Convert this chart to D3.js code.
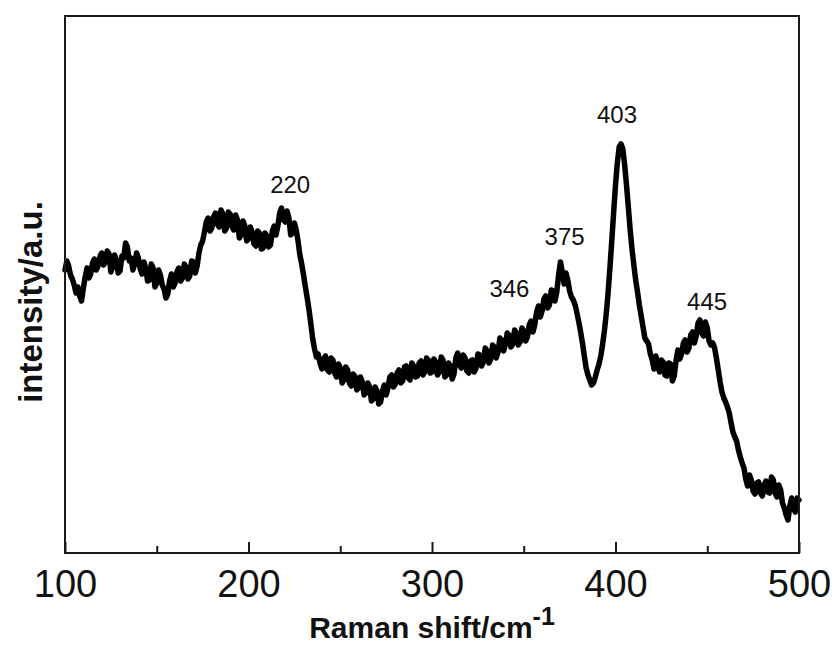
<!DOCTYPE html>
<html>
<head>
<meta charset="utf-8">
<script src="https://cdn.jsdelivr.net/npm/d3@7"></script>
<style>
  html, body { margin: 0; padding: 0; background: #fff; }
  svg { display: block; }
  text { font-family: "Liberation Sans", Arial, Helvetica, sans-serif; fill: #111; }
</style>
</head>
<body>
<svg id="chart" width="836" height="646"></svg>
<script>
// Raman spectrum, sampled every 1 cm^-1 from 100 to 500 cm^-1
const shiftStart = 100, shiftEnd = 500, shiftStep = 1;
const ramanShift = d3.range(shiftStart, shiftEnd + 1, shiftStep);

const intensity = [
  283,292,287,278,274,268,260,266,257,252,265,276,285,275,279,290,294,283,287,296,
  300,288,291,302,299,281,286,298,293,280,282,297,295,310,306,292,295,283,289,300,
  295,284,279,291,285,272,273,289,285,266,270,283,278,268,264,255,259,272,279,266,
  270,281,285,272,275,289,286,274,277,292,291,280,287,300,308,312,321,331,335,322,
  325,336,340,329,326,343,339,322,325,341,339,327,323,338,333,315,318,332,327,312,
  314,326,321,309,307,322,320,304,305,320,317,306,308,322,327,318,327,340,345,333,
  331,342,335,318,320,330,323,312,298,289,278,266,255,243,229,214,204,196,199,190,
  184,194,197,183,181,195,193,180,176,189,185,170,173,186,183,170,167,179,177,163,
  165,176,171,158,160,170,166,152,154,166,162,149,151,162,168,158,165,176,178,166,
  169,180,183,170,172,186,187,175,173,190,187,176,177,190,192,178,181,195,193,180,
  181,194,191,178,181,196,193,176,178,190,187,174,179,195,200,188,185,198,195,182,
  180,192,193,181,185,199,198,187,191,205,202,190,194,208,206,195,201,215,213,202,
  209,220,218,206,209,223,220,208,211,225,222,212,216,228,232,221,228,241,247,236,
  242,254,257,245,248,263,262,252,261,278,291,281,269,280,273,262,256,253,248,240,
  231,221,210,197,185,178,173,168,170,176,183,189,197,209,223,240,261,286,313,341,
  368,390,406,409,404,388,368,346,323,304,288,273,261,248,237,226,215,212,209,199,
  193,184,197,188,181,193,191,178,177,190,189,172,177,192,203,194,199,210,213,201,
  205,218,221,210,217,230,233,220,217,231,225,212,208,210,205,195,183,171,161,155,
  151,146,140,130,121,116,112,103,96,90,85,74,67,78,73,62,59,70,71,60,
  57,68,72,61,60,76,73,60,56,68,63,50,45,38,33,47,55,44,41,55,
  53
];

// Assigned band positions (cm^-1)
const peakLabels = [220, 346, 375, 403, 445];

const xMajorTicks = [100, 200, 300, 400, 500];
const xMinorTicks = [150, 250, 350, 450];

const xTitle = "Raman shift/cm";
const xTitleSup = "-1";
const yTitle = "intensity/a.u.";

// ---- layout ----
const plot = { left: 65, right: 799, top: 16, bottom: 553 };

const svg = d3.select("#chart");

const x = d3.scaleLinear().domain([shiftStart, shiftEnd]).range([plot.left, plot.right]);
const y = d3.scaleLinear().domain([0, 537]).range([plot.bottom, plot.top]);

const spectrum = ramanShift.map((s, i) => ({ s, v: intensity[i] }));

// spectrum trace
svg.append("path")
  .datum(spectrum)
  .attr("fill", "none")
  .attr("stroke", "#000")
  .attr("stroke-width", 5.5)
  .attr("stroke-linejoin", "round")
  .attr("stroke-linecap", "round")
  .attr("d", d3.line().x(d => x(d.s)).y(d => y(d.v)));

// frame
svg.append("rect")
  .attr("x", plot.left).attr("y", plot.top)
  .attr("width", plot.right - plot.left).attr("height", plot.bottom - plot.top)
  .attr("fill", "none").attr("stroke", "#1a1a1a").attr("stroke-width", 2);

// bottom axis: inward ticks, labels below
const xAxis = d3.axisBottom(x)
  .tickValues(xMajorTicks)
  .tickSizeInner(-11).tickSizeOuter(0)
  .tickFormat(d3.format("d"));

const gx = svg.append("g")
  .attr("transform", `translate(0,${plot.bottom})`)
  .call(xAxis);
gx.select(".domain").remove();
gx.selectAll(".tick line").attr("stroke", "#1a1a1a").attr("stroke-width", 2);
gx.selectAll(".tick text")
  .attr("font-size", 38)
  .attr("font-family", "'Liberation Sans', Arial, sans-serif")
  .attr("fill", "#111")
  .attr("dy", null)
  .attr("y", 44);

// minor ticks
const xMinor = d3.axisBottom(x)
  .tickValues(xMinorTicks)
  .tickSizeInner(-7).tickSizeOuter(0)
  .tickFormat("");
const gxm = svg.append("g")
  .attr("transform", `translate(0,${plot.bottom})`)
  .call(xMinor);
gxm.select(".domain").remove();
gxm.selectAll(".tick line").attr("stroke", "#1a1a1a").attr("stroke-width", 2);

// x title with superscript
const xt = svg.append("text")
  .attr("x", 432).attr("y", 638)
  .attr("text-anchor", "middle")
  .attr("font-size", 30)
  .attr("font-weight", "bold");
xt.append("tspan").text(xTitle);
xt.append("tspan").attr("dy", -13).attr("font-size", 25).text(xTitleSup);

// y title
svg.append("text")
  .attr("transform", "translate(42,302) rotate(-90)")
  .attr("text-anchor", "middle")
  .attr("font-size", 33)
  .attr("font-weight", "bold")
  .text(yTitle);

// band labels, placed over the local maximum of the trace
const labelNudge = {
  220: { dx: 5, dy: -15 },
  346: { dx: -7, dy: -31 },
  375: { dx: -5, dy: -17 },
  403: { dx: -4, dy: -21 },
  445: { dx: 9, dy: -10 }
};

peakLabels.forEach(p => {
  const near = spectrum.filter(d => Math.abs(d.s - p) <= 6);
  const top = d3.max(near, d => d.v);
  const n = labelNudge[p];
  svg.append("text")
    .attr("x", x(p) + n.dx)
    .attr("y", y(top) + n.dy)
    .attr("text-anchor", "middle")
    .attr("font-size", 24)
    .attr("fill", "#222")
    .text(p);
});
</script>
</body>
</html>
